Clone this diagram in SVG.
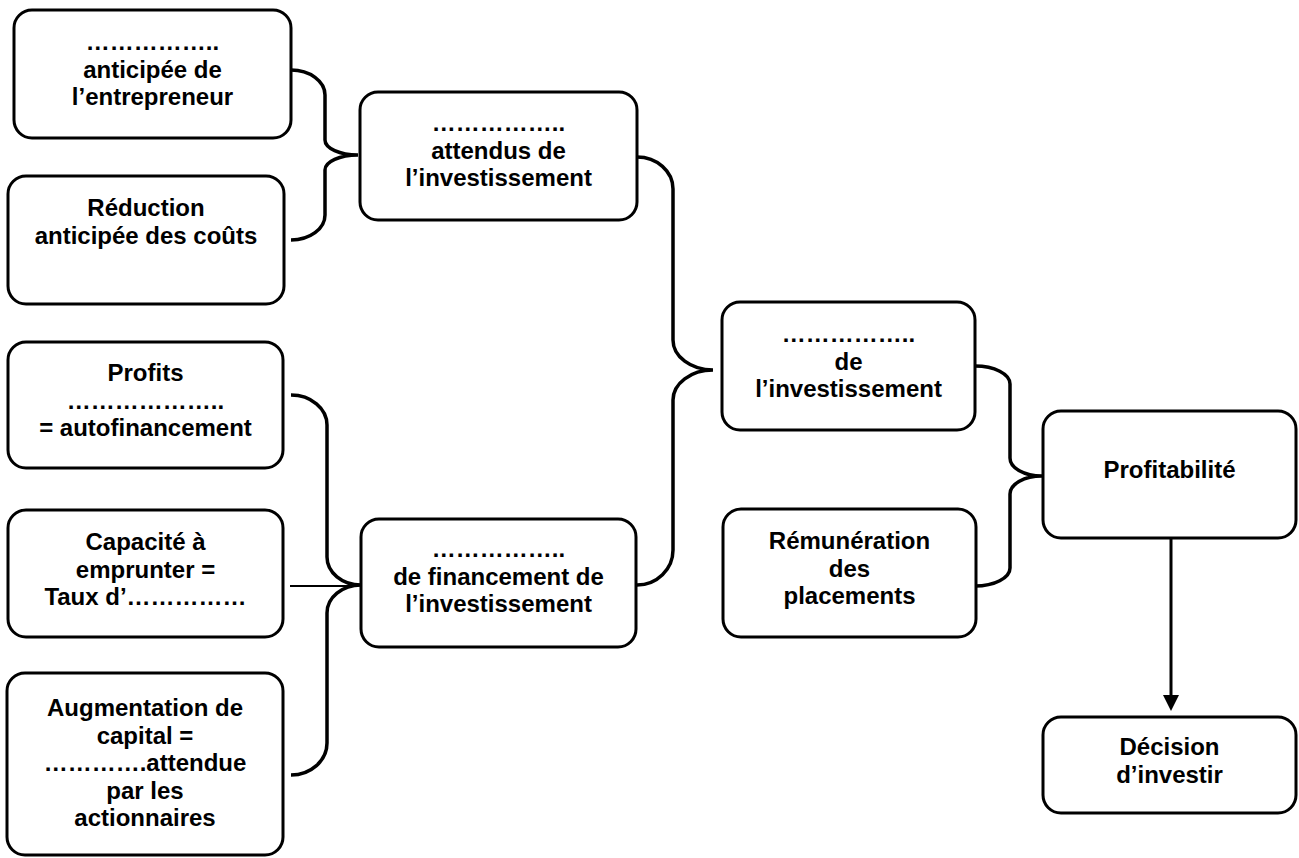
<svg xmlns="http://www.w3.org/2000/svg" width="1299" height="858" viewBox="0 0 1299 858">
<defs>
<style>
.box{fill:#fff;stroke:#000;stroke-width:3}
.t{font-family:"Liberation Sans",Arial,sans-serif;font-weight:bold;font-size:24px;fill:#000;text-anchor:middle}
.br{fill:none;stroke:#000;stroke-width:3.5}
.ln{fill:none;stroke:#000;stroke-width:2}
.ar{fill:none;stroke:#000;stroke-width:3}
</style>
</defs>
<rect width="1299" height="858" fill="#fff"/>
<g id="connectors">
<path class="br" d="M291,70 A34,25 0 0 1 325,95 L325,140 A33,15 0 0 0 358,155 A33,15 0 0 0 325,170 L325,215 A34,25 0 0 1 291,240"/>
<path class="br" d="M637,157 A36,32 0 0 1 673,189 L673,340 A40,30 0 0 0 713,370 A40,30 0 0 0 673,400 L673,550 A36,35 0 0 1 637,585"/>
<path class="br" d="M975,366 A35,18 0 0 1 1010,384 L1010,458 A32,18 0 0 0 1042,476 A32,18 0 0 0 1010,494 L1010,568 A35,18 0 0 1 975,586"/>
<path class="br" d="M291,395 A36,30 0 0 1 327,425 L327,557 A34,28 0 0 0 361,585 A34,28 0 0 0 327,613 L327,743 A36,32 0 0 1 291,775"/>
<path class="ln" d="M290,586 L358,586"/>
<path class="ar" d="M1171,538 L1171,697"/>
<polygon points="1163,695 1179,695 1171,711" fill="#000"/>
</g>
<g id="n1">
<rect class="box" x="14" y="10" width="277" height="128" rx="18"/>
<text class="t" x="152.5" y="50">……………..</text>
<text class="t" x="152.5" y="77.6">anticipée de</text>
<text class="t" x="152.5" y="105.2">l’entrepreneur</text>
</g>
<g id="n2">
<rect class="box" x="8" y="176" width="276" height="128" rx="18"/>
<text class="t" x="146" y="216">Réduction</text>
<text class="t" x="146" y="243.6">anticipée des coûts</text>
</g>
<g id="n3">
<rect class="box" x="360" y="92" width="277" height="128" rx="18"/>
<text class="t" x="498.5" y="131">……………..</text>
<text class="t" x="498.5" y="158.6">attendus de</text>
<text class="t" x="498.5" y="186.2">l’investissement</text>
</g>
<g id="n4">
<rect class="box" x="8" y="342" width="275" height="126" rx="18"/>
<text class="t" x="145.5" y="381">Profits</text>
<text class="t" x="145.5" y="408.6">………………..</text>
<text class="t" x="145.5" y="436.2">= autofinancement</text>
</g>
<g id="n5">
<rect class="box" x="8" y="510" width="275" height="127" rx="18"/>
<text class="t" x="145.5" y="550">Capacité à</text>
<text class="t" x="145.5" y="577.6">emprunter =</text>
<text class="t" x="145.5" y="605.2">Taux d’……………</text>
</g>
<g id="n6">
<rect class="box" x="7" y="673" width="276" height="182" rx="18"/>
<text class="t" x="145" y="716">Augmentation de</text>
<text class="t" x="145" y="743.6">capital =</text>
<text class="t" x="145" y="771.2">………….attendue</text>
<text class="t" x="145" y="798.8">par les</text>
<text class="t" x="145" y="826.4">actionnaires</text>
</g>
<g id="n7">
<rect class="box" x="361" y="519" width="275" height="128" rx="18"/>
<text class="t" x="498.5" y="557">……………..</text>
<text class="t" x="498.5" y="584.6">de financement de</text>
<text class="t" x="498.5" y="612.2">l’investissement</text>
</g>
<g id="n8">
<rect class="box" x="722" y="302" width="253" height="128" rx="18"/>
<text class="t" x="848.5" y="342">……………..</text>
<text class="t" x="848.5" y="369.6">de</text>
<text class="t" x="848.5" y="397.2">l’investissement</text>
</g>
<g id="n9">
<rect class="box" x="723" y="509" width="253" height="128" rx="18"/>
<text class="t" x="849.5" y="549">Rémunération</text>
<text class="t" x="849.5" y="576.6">des</text>
<text class="t" x="849.5" y="604.2">placements</text>
</g>
<g id="n10">
<rect class="box" x="1043" y="411" width="253" height="127" rx="18"/>
<text class="t" x="1169.5" y="478">Profitabilité</text>
</g>
<g id="n11">
<rect class="box" x="1043" y="717" width="253" height="96" rx="18"/>
<text class="t" x="1169.5" y="755">Décision</text>
<text class="t" x="1169.5" y="782.6">d’investir</text>
</g>
</svg>
